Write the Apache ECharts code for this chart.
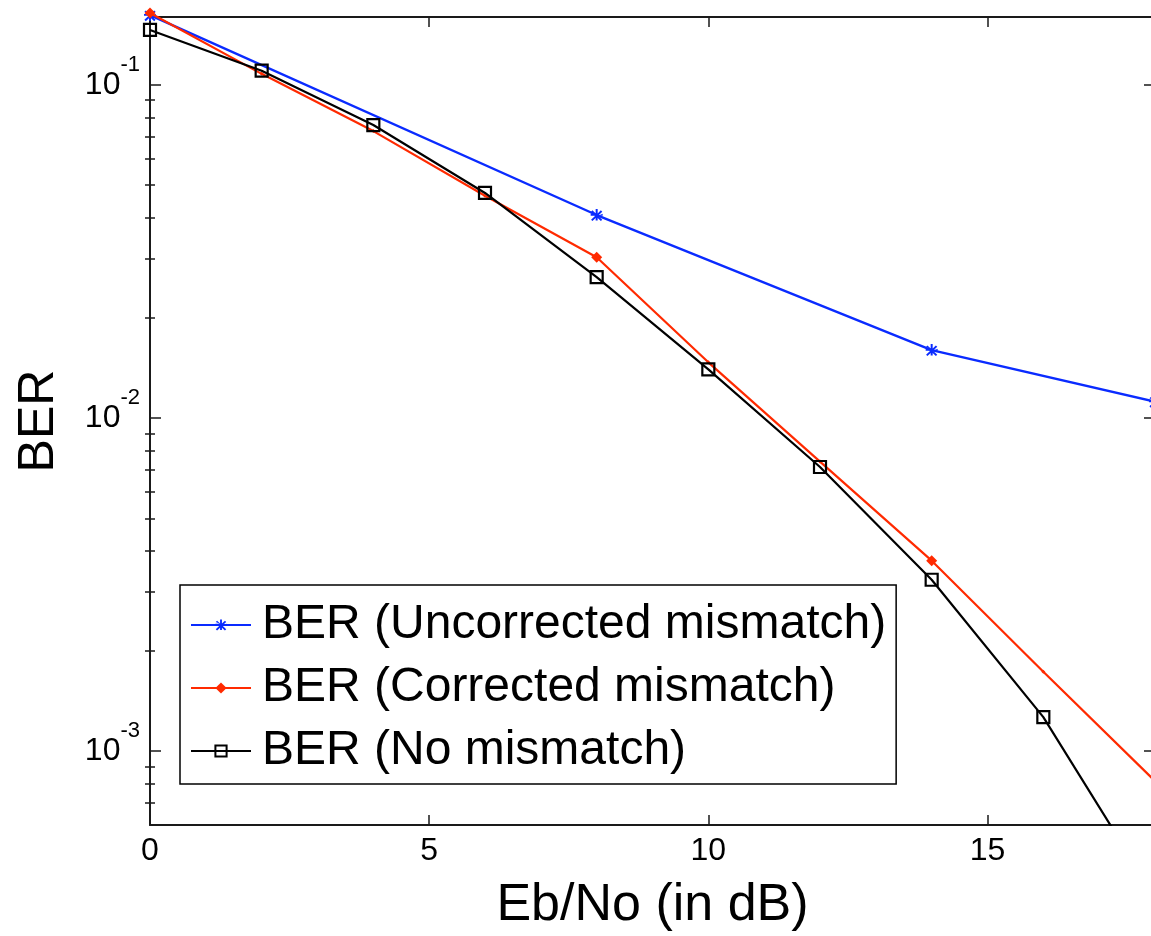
<!DOCTYPE html>
<html>
<head>
<meta charset="utf-8">
<script src="https://cdn.jsdelivr.net/npm/echarts@6/dist/echarts.min.js"></script>
<style>
html, body { margin: 0; padding: 0; background: #fff; }
#chart { width: 1151px; height: 936px; }
</style>
</head>
<body>
<div id="chart"></div>
<script>
// ---- data ----
const seriesNames = ['BER (Uncorrected mismatch)', 'BER (Corrected mismatch)', 'BER (No mismatch)'];
const uncorrectedX = [0, 8, 14, 18];
const uncorrectedBER = [0.162, 0.0407, 0.016, 0.0112];
const snrX = [0, 2, 4, 6, 8, 10, 12, 14, 16, 18];
const correctedBER = [0.1645, 0.108, 0.0727, 0.0465, 0.0304, 0.0147, 0.0074, 0.00373, 0.00173, 0.000813];
const noMismatchBER = [0.1463, 0.1104, 0.0758, 0.0474, 0.0265, 0.0140, 0.00713, 0.00327, 0.001265, 0.000365];
const correctedMarkedX = [0, 8, 14];
const xTickValues = [0, 5, 10, 15];
const yMajorTicks = [0.001, 0.01, 0.1];
const yMinorTicks = [0.0007, 0.0008, 0.0009, 0.002, 0.003, 0.004, 0.005, 0.006, 0.007, 0.008, 0.009,
                     0.02, 0.03, 0.04, 0.05, 0.06, 0.07, 0.08, 0.09];
const xRange = [0, 18];
const yRange = [0.0006, 0.16];
const xTitle = 'Eb/No (in dB)';
const yTitle = 'BER';

const FONT = "'Liberation Sans', Arial, Helvetica, sans-serif";
const AXIS_COLOR = '#1a1a1a';

function zip(xs, ys) { return xs.map((x, i) => [x, ys[i]]); }

const starPath = 'path://M-1,-6L1,-6L1,-1.4L4.2,-4.6L5.6,-3.2L1.4,1L1.4,1L6,-1L6,1L1.4,1L5.6,5.2L4.2,6.6L1,3.4L1,6L-1,6L-1,3.4L-4.2,6.6L-5.6,5.2L-1.4,1L-6,1L-6,-1L-1.4,-1L-5.6,-3.2L-4.2,-4.6L-1,-1.4Z';

function yLabel(v) {
  const e = Math.round(Math.log10(v));
  return '{b|10}{e|' + e + '}';
}

const yLabelRich = {
  b: { fontSize: 32, fontFamily: FONT, color: '#000' },
  e: { fontSize: 22, fontFamily: FONT, color: '#000', padding: [0, 0, 40, 0] }
};

const baseY = {
  type: 'log', logBase: 10, min: yRange[0], max: yRange[1],
  splitLine: { show: false }, minorTick: { show: false }
};

const chart = echarts.init(document.getElementById('chart'), null, { renderer: 'canvas' });
chart.setOption({
  backgroundColor: '#fff',
  animation: false,
  grid: { left: 150, top: 17, width: 1005, height: 808, containLabel: false, outerBoundsMode: 'none' },
  legend: {
    orient: 'vertical', left: 180, top: 585,
    padding: [16, 10, 9, 10], itemGap: 15, itemWidth: 60, itemHeight: 14,
    borderColor: '#000', borderWidth: 1.5, backgroundColor: '#fff',
    textStyle: { fontSize: 48, fontFamily: FONT, color: '#000', padding: [0, 0, 0, 6] },
    data: seriesNames
  },
  xAxis: [
    {
      type: 'value', min: xRange[0], max: xRange[1], position: 'bottom',
      name: xTitle, nameLocation: 'middle', nameGap: 55,
      nameTextStyle: { fontSize: 52, fontFamily: FONT, color: '#000' },
      axisLine: { show: true, onZero: false, lineStyle: { color: AXIS_COLOR, width: 2 } },
      axisTick: { show: true, inside: true, length: 10, customValues: xTickValues, lineStyle: { color: AXIS_COLOR, width: 1.5 } },
      axisLabel: { show: true, customValues: xTickValues, margin: 10, fontSize: 32, fontFamily: FONT, color: '#000' },
      splitLine: { show: false }
    },
    {
      type: 'value', min: xRange[0], max: xRange[1], position: 'top',
      axisLine: { show: true, onZero: false, lineStyle: { color: AXIS_COLOR, width: 2 } },
      axisTick: { show: true, inside: true, length: 10, customValues: xTickValues, lineStyle: { color: AXIS_COLOR, width: 1.5 } },
      axisLabel: { show: false },
      splitLine: { show: false }
    }
  ],
  yAxis: [
    Object.assign({}, baseY, {
      position: 'left',
      name: yTitle, nameLocation: 'middle', nameGap: 86, nameRotate: 90,
      nameTextStyle: { fontSize: 50, fontFamily: FONT, color: '#000' },
      axisLine: { show: true, onZero: false, lineStyle: { color: AXIS_COLOR, width: 2 } },
      axisTick: { show: true, inside: true, length: 11, customValues: yMajorTicks, lineStyle: { color: AXIS_COLOR, width: 1.5 } },
      axisLabel: { show: true, customValues: yMajorTicks, margin: 10, formatter: yLabel, rich: yLabelRich }
    }),
    Object.assign({}, baseY, {
      position: 'left',
      axisLine: { show: false },
      axisTick: { show: true, inside: true, length: 5, customValues: yMinorTicks, lineStyle: { color: AXIS_COLOR, width: 1.5 } },
      axisLabel: { show: false }
    }),
    Object.assign({}, baseY, {
      position: 'right',
      axisLine: { show: true, onZero: false, lineStyle: { color: AXIS_COLOR, width: 2 } },
      axisTick: { show: true, inside: true, length: 11, customValues: yMajorTicks, lineStyle: { color: AXIS_COLOR, width: 1.5 } },
      axisLabel: { show: false }
    }),
    Object.assign({}, baseY, {
      position: 'right',
      axisLine: { show: false },
      axisTick: { show: true, inside: true, length: 5, customValues: yMinorTicks, lineStyle: { color: AXIS_COLOR, width: 1.5 } },
      axisLabel: { show: false }
    })
  ],
  series: [
    {
      name: seriesNames[0], type: 'line', xAxisIndex: 0, yAxisIndex: 0,
      data: zip(uncorrectedX, uncorrectedBER),
      color: '#0a2bff',
      lineStyle: { color: '#0a2bff', width: 2.4 },
      symbol: starPath, symbolSize: 12,
      itemStyle: { color: '#0a2bff' },
      clip: false, z: 2
    },
    {
      name: seriesNames[1], type: 'line', xAxisIndex: 0, yAxisIndex: 0,
      data: zip(snrX, correctedBER),
      color: '#ff2a00',
      lineStyle: { color: '#ff2a00', width: 2.2 },
      symbol: 'diamond',
      symbolSize: function (val) { return correctedMarkedX.indexOf(val[0]) >= 0 ? 11 : 4; },
      itemStyle: { color: '#ff2a00' },
      clip: false, z: 3
    },
    {
      name: seriesNames[2], type: 'line', xAxisIndex: 0, yAxisIndex: 0,
      data: zip(snrX, noMismatchBER),
      color: '#000',
      lineStyle: { color: '#000', width: 2.2 },
      symbol: 'rect', symbolSize: 12,
      itemStyle: { color: 'rgba(255,255,255,0)', borderColor: '#000', borderWidth: 2.2 },
      clip: true, z: 4
    }
  ]
});
</script>
</body>
</html>
